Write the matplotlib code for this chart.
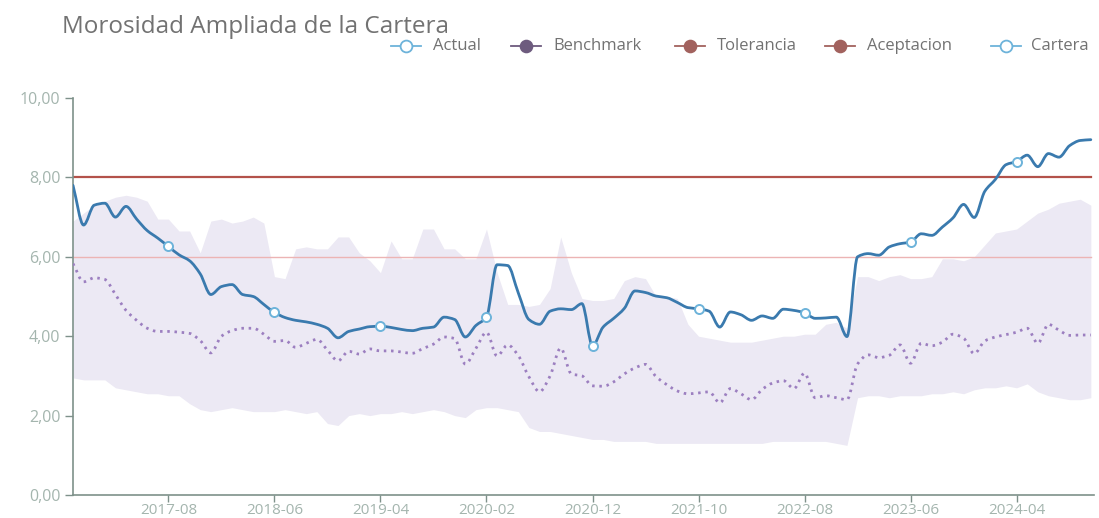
import matplotlib
matplotlib.use("Agg")
import matplotlib.pyplot as plt
import numpy as np
from matplotlib.path import Path
from matplotlib.patches import PathPatch
from matplotlib.lines import Line2D

# ---------------- data ----------------
start_year, start_month, n_months = 2016, 11, 97
months = []
yy, mm = start_year, start_month
for _ in range(n_months):
    months.append(f"{yy}-{mm:02d}")
    mm += 1
    if mm > 12:
        mm = 1
        yy += 1

cartera = [7.8, 6.8, 7.3, 7.35, 7.0, 7.27, 6.95, 6.66, 6.47, 6.26,
           6.05, 5.9, 5.57, 5.05, 5.25, 5.3, 5.05, 5.0, 4.8, 4.6,
           4.47, 4.4, 4.36, 4.3, 4.2, 3.96, 4.12, 4.18, 4.24, 4.25,
           4.22, 4.17, 4.14, 4.2, 4.23, 4.48, 4.42, 3.98, 4.27, 4.48,
           5.8, 5.78, 5.09, 4.42, 4.3, 4.63, 4.69, 4.67, 4.82, 3.76,
           4.23, 4.45, 4.7, 5.14, 5.1, 5.01, 4.97, 4.85, 4.72, 4.69,
           4.63, 4.23, 4.61, 4.54, 4.40, 4.51, 4.45, 4.68, 4.65, 4.59,
           4.45, 4.46, 4.48, 3.99, 6.0, 6.08, 6.04, 6.25, 6.33, 6.37,
           6.58, 6.54, 6.75, 6.98, 7.32, 6.99, 7.65, 7.95, 8.32, 8.4,
           8.56, 8.27, 8.6, 8.51, 8.8, 8.93, 8.95]

benchmark = [5.83, 5.37, 5.47, 5.43, 5.05, 4.65, 4.4, 4.2, 4.12, 4.12,
             4.1, 4.07, 3.89, 3.58, 4.0, 4.14, 4.2, 4.2, 4.05, 3.87,
             3.89, 3.72, 3.82, 3.92, 3.65, 3.38, 3.62, 3.55, 3.68, 3.63,
             3.63, 3.6, 3.57, 3.69, 3.8, 3.98, 3.94, 3.3, 3.69, 4.1,
             3.5, 3.78, 3.51, 2.98, 2.6, 3.0, 3.7, 3.05, 3.0, 2.75,
             2.74, 2.85, 3.05, 3.2, 3.29, 2.98, 2.78, 2.62, 2.55, 2.57,
             2.6, 2.32, 2.68, 2.55, 2.4, 2.66, 2.82, 2.88, 2.68, 3.07,
             2.45, 2.5, 2.45, 2.4, 3.3, 3.53, 3.46, 3.52, 3.78, 3.32,
             3.82, 3.76, 3.85, 4.05, 3.95, 3.56, 3.88, 3.98, 4.04, 4.1,
             4.2, 3.82, 4.3, 4.15, 4.02, 4.03, 4.03]

band_high = [6.9, 7.1, 7.3, 7.4, 7.5, 7.55, 7.5, 7.4, 6.95, 6.95,
             6.65, 6.65, 6.1, 6.9, 6.95, 6.85, 6.9, 7.0, 6.85, 5.5,
             5.45, 6.2, 6.25, 6.2, 6.2, 6.5, 6.5, 6.1, 5.9, 5.6,
             6.4, 5.95, 5.95, 6.7, 6.7, 6.2, 6.2, 5.95, 5.95, 6.7,
             5.6, 4.8, 4.8, 4.75, 4.8, 5.2, 6.5, 5.6, 4.95, 4.9,
             4.9, 4.95, 5.4, 5.5, 5.45, 5.0, 5.0, 4.95, 4.3, 4.0,
             3.95, 3.9, 3.85, 3.85, 3.85, 3.9, 3.95, 4.0, 4.0, 4.05,
             4.05, 4.3, 4.35, 4.2, 5.5, 5.5, 5.4, 5.5, 5.55, 5.45,
             5.45, 5.5, 5.95, 5.95, 5.9, 6.0, 6.3, 6.6, 6.65, 6.7,
             6.9, 7.1, 7.2, 7.35, 7.4, 7.45, 7.3]

band_low = [2.95, 2.9, 2.9, 2.9, 2.7, 2.65, 2.6, 2.55, 2.55, 2.5,
            2.5, 2.3, 2.15, 2.1, 2.15, 2.2, 2.15, 2.1, 2.1, 2.1,
            2.15, 2.1, 2.05, 2.1, 1.8, 1.75, 2.0, 2.05, 2.0, 2.05,
            2.05, 2.1, 2.05, 2.1, 2.15, 2.1, 2.0, 1.95, 2.15, 2.2,
            2.2, 2.15, 2.1, 1.7, 1.6, 1.6, 1.55, 1.5, 1.45, 1.4,
            1.4, 1.35, 1.35, 1.35, 1.35, 1.3, 1.3, 1.3, 1.3, 1.3,
            1.3, 1.3, 1.3, 1.3, 1.3, 1.3, 1.35, 1.35, 1.35, 1.35,
            1.35, 1.35, 1.3, 1.25, 2.45, 2.5, 2.5, 2.45, 2.5, 2.5,
            2.5, 2.55, 2.55, 2.6, 2.55, 2.65, 2.7, 2.7, 2.75, 2.7,
            2.8, 2.6, 2.5, 2.45, 2.4, 2.4, 2.45]

tolerancia = 8.0
aceptacion = 6.0

legend_labels = ["Actual", "Benchmark", "Tolerancia", "Aceptacion", "Cartera"]
y_ticks = [0, 2, 4, 6, 8, 10]

# ---------------- style ----------------
FONT = "Open Sans"
C_LINE = "#3a7aae"
C_MARK = "#6db3da"
C_BENCH = "#9c7fc0"
C_BAND = "#ece9f4"
C_TOL = "#b3524a"
C_ACC = "#ecb4b4"
C_AXIS = "#7e918a"
C_TICK = "#a4b5ae"
C_TEXT = "#727272"

W, H = 1099, 518
fig = plt.figure(figsize=(W / 100, H / 100), dpi=100)
fig.patch.set_facecolor("white")


def fx(px):
    return px / W


def fy(py):
    return 1 - py / H


ax = fig.add_axes([fx(73), fy(495), fx(1094) - fx(73), fy(98) - fy(495)])
ax.set_facecolor("white")

x = np.arange(len(months))


def smooth_path(xs, ys):
    xs = np.asarray(xs, float)
    ys = np.asarray(ys, float)
    h = np.diff(xs)
    d = np.diff(ys) / h
    m = np.zeros_like(ys)
    m[0] = d[0]
    m[-1] = d[-1]
    for k in range(1, len(ys) - 1):
        if d[k - 1] * d[k] <= 0:
            m[k] = 0.0
        else:
            m[k] = 2.0 / (1.0 / d[k - 1] + 1.0 / d[k])
    verts = [(xs[0], ys[0])]
    codes = [Path.MOVETO]
    for k in range(len(xs) - 1):
        verts += [(xs[k] + h[k] / 3, ys[k] + m[k] * h[k] / 3),
                  (xs[k + 1] - h[k] / 3, ys[k + 1] - m[k + 1] * h[k] / 3),
                  (xs[k + 1], ys[k + 1])]
        codes += [Path.CURVE4] * 3
    return Path(verts, codes)


# band (benchmark range)
ax.fill_between(x, band_low, band_high, color=C_BAND, lw=0, zorder=1)

# reference lines
ax.plot([x[0], x[-1]], [aceptacion, aceptacion], color=C_ACC, lw=1.0, zorder=2)
ax.plot([x[0], x[-1]], [tolerancia, tolerancia], color=C_TOL, lw=1.6, zorder=2)

# benchmark dotted line
ax.add_patch(PathPatch(smooth_path(x, benchmark), fill=False, edgecolor=C_BENCH,
                       lw=2.0, linestyle=(0, (0.9, 1.7)), zorder=3))

# cartera line
ax.add_patch(PathPatch(smooth_path(x, cartera), fill=False, edgecolor=C_LINE,
                       lw=2.0, zorder=4, capstyle="round", joinstyle="round"))

tick_idx = list(range(9, len(months), 10))
ax.plot(x[tick_idx], [cartera[i] for i in tick_idx], linestyle="none", marker="o",
        ms=6.5, mfc="white", mec=C_MARK, mew=1.4, zorder=5)

ax.set_xlim(0, 96.3)
ax.set_ylim(0, 10)

ax.set_yticks(y_ticks)
ax.set_yticklabels([f"{v:.2f}".replace(".", ",") for v in y_ticks])
ax.set_xticks(tick_idx)
ax.set_xticklabels([months[i] for i in tick_idx])

for s in ["top", "right"]:
    ax.spines[s].set_visible(False)
for s in ["left", "bottom"]:
    ax.spines[s].set_color(C_AXIS)
    ax.spines[s].set_linewidth(1.2)

ax.tick_params(axis="y", length=6, width=1, color=C_AXIS, labelcolor=C_TICK,
               labelsize=11.5, pad=3)
ax.tick_params(axis="x", length=5, width=1, color=C_AXIS, labelcolor=C_TICK,
               labelsize=11, pad=0.5)
for lab in ax.get_xticklabels() + ax.get_yticklabels():
    lab.set_fontfamily(FONT)

# title
fig.text(fx(62), fy(27), "Morosidad Ampliada de la Cartera", fontsize=17.5,
         color=C_TEXT, family=FONT, ha="left", va="center")

# legend (drawn manually)
leg_centers = [406, 526, 690, 840, 1006]
leg_text_x = [433, 553, 717, 867, 1031]
leg_styles = [
    dict(color=C_MARK, mfc="white", mec=C_MARK),
    dict(color="#6d5b7e", mfc="#6d5b7e", mec="#6d5b7e"),
    dict(color="#a2625e", mfc="#a2625e", mec="#a2625e"),
    dict(color="#a2625e", mfc="#a2625e", mec="#a2625e"),
    dict(color=C_MARK, mfc="white", mec=C_MARK),
]
ly = 46
for cx, tx, lab, st in zip(leg_centers, leg_text_x, legend_labels, leg_styles):
    fig.add_artist(Line2D([fx(cx - 15), fx(cx + 15)], [fy(ly), fy(ly)],
                          transform=fig.transFigure, color=st["color"], lw=1.3))
    fig.add_artist(Line2D([fx(cx)], [fy(ly)], transform=fig.transFigure,
                          marker="o", ms=8.5, mfc=st["mfc"], mec=st["mec"], mew=1.3,
                          linestyle="none"))
    fig.text(fx(tx), fy(ly), lab, fontsize=12, color=C_TEXT, family=FONT,
             ha="left", va="center")

fig.savefig("out.png", dpi=100, facecolor="white")
